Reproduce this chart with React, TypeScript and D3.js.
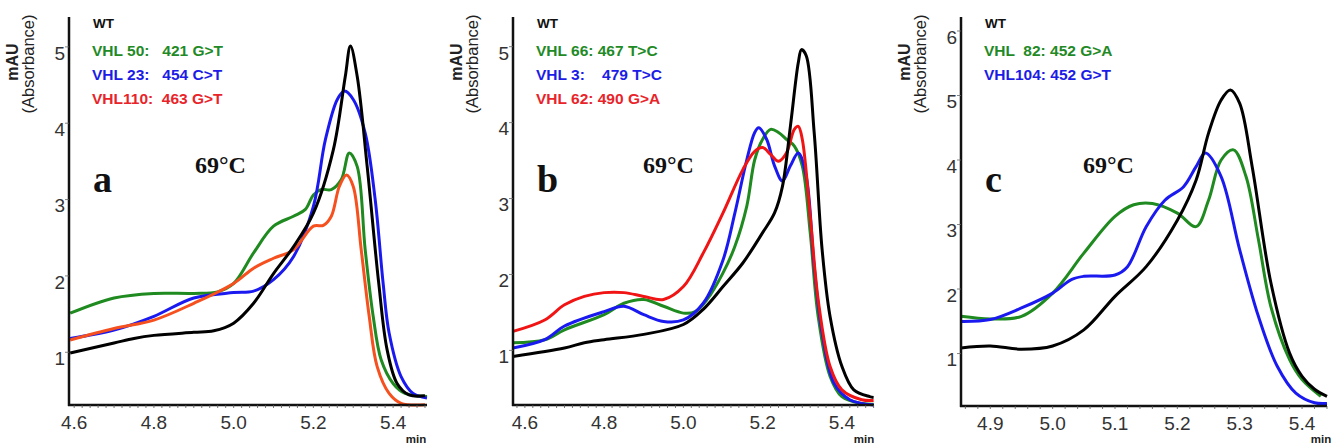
import React from "react";
import * as d3 from "d3";

// ---- data: [minutes, mAU] ----
const aWT = [[4.59,1.07],[4.70,1.20],[4.75,1.26],[4.80,1.30],[4.90,1.34],[4.95,1.36],[5.00,1.46],[5.05,1.72],[5.10,2.11],[5.15,2.46],[5.20,2.90],[5.25,3.73],[5.28,4.69],[5.293,5.09],[5.31,4.69],[5.335,3.51],[5.364,1.98],[5.385,1.11],[5.41,0.67],[5.44,0.52],[5.48,0.51]];
const aVHL50 = [[4.59,1.59],[4.70,1.79],[4.80,1.85],[4.90,1.85],[4.96,1.87],[5.00,1.98],[5.05,2.38],[5.10,2.73],[5.15,2.86],[5.18,2.95],[5.20,3.14],[5.22,3.21],[5.245,3.21],[5.27,3.34],[5.29,3.69],[5.31,3.51],[5.33,2.42],[5.35,1.55],[5.37,0.98],[5.40,0.67],[5.43,0.54],[5.485,0.50]];
const aVHL23 = [[4.59,1.26],[4.70,1.37],[4.80,1.55],[4.90,1.79],[5.00,1.86],[5.05,1.88],[5.10,2.03],[5.15,2.33],[5.20,2.99],[5.23,3.86],[5.26,4.39],[5.278,4.50],[5.30,4.39],[5.33,3.95],[5.355,3.08],[5.375,1.98],[5.39,1.33],[5.42,0.76],[5.45,0.54],[5.485,0.48]];
const aVHL110 = [[4.59,1.24],[4.70,1.39],[4.80,1.50],[4.90,1.72],[5.00,1.98],[5.05,2.18],[5.10,2.31],[5.15,2.42],[5.20,2.73],[5.225,2.74],[5.245,2.86],[5.265,3.25],[5.283,3.40],[5.30,3.25],[5.32,2.42],[5.34,1.55],[5.36,0.89],[5.39,0.54],[5.42,0.41],[5.48,0.39]];

const bWT = [[4.57,1.0],[4.70,1.11],[4.75,1.18],[4.80,1.22],[4.90,1.29],[5.00,1.42],[5.05,1.62],[5.10,1.92],[5.15,2.23],[5.20,2.63],[5.23,2.89],[5.25,3.24],[5.27,4.03],[5.29,4.87],[5.298,5.04],[5.31,4.96],[5.33,3.95],[5.35,2.41],[5.37,1.53],[5.40,0.87],[5.43,0.56],[5.47,0.47],[5.48,0.46]];
const bVHL66 = [[4.57,1.18],[4.65,1.22],[4.70,1.35],[4.80,1.55],[4.85,1.70],[4.90,1.75],[4.95,1.66],[5.00,1.57],[5.03,1.59],[5.06,1.75],[5.10,2.10],[5.13,2.45],[5.16,2.98],[5.18,3.59],[5.20,3.86],[5.22,3.99],[5.24,3.95],[5.26,3.86],[5.28,3.77],[5.30,3.51],[5.32,2.63],[5.34,1.53],[5.37,0.74],[5.40,0.47],[5.45,0.38],[5.48,0.37]];
const bVHL3 = [[4.57,1.11],[4.65,1.22],[4.70,1.40],[4.80,1.59],[4.85,1.66],[4.90,1.55],[4.95,1.46],[5.00,1.48],[5.05,1.70],[5.10,2.27],[5.13,2.89],[5.16,3.59],[5.18,3.95],[5.19,4.01],[5.21,3.86],[5.23,3.51],[5.25,3.31],[5.27,3.51],[5.29,3.68],[5.31,3.37],[5.33,2.19],[5.35,1.31],[5.38,0.65],[5.42,0.43],[5.48,0.36]];
const bVHL62 = [[4.57,1.33],[4.65,1.48],[4.70,1.68],[4.75,1.79],[4.80,1.84],[4.85,1.84],[4.90,1.79],[4.95,1.75],[5.00,1.92],[5.05,2.36],[5.10,2.89],[5.15,3.46],[5.18,3.70],[5.20,3.75],[5.22,3.66],[5.24,3.57],[5.26,3.68],[5.28,3.99],[5.29,4.03],[5.30,3.86],[5.32,2.85],[5.34,1.75],[5.37,0.87],[5.40,0.56],[5.45,0.43],[5.48,0.42]];

const cWT = [[4.853,1.18],[4.90,1.21],[4.95,1.16],[5.00,1.21],[5.05,1.46],[5.10,1.98],[5.15,2.44],[5.20,3.16],[5.23,3.78],[5.25,4.51],[5.27,5.02],[5.285,5.18],[5.30,4.97],[5.32,3.99],[5.35,2.19],[5.38,1.10],[5.40,0.74],[5.42,0.54],[5.44,0.43]];
const cVHL82 = [[4.853,1.67],[4.90,1.63],[4.95,1.67],[5.00,2.03],[5.05,2.65],[5.10,3.22],[5.13,3.40],[5.16,3.42],[5.20,3.27],[5.23,3.06],[5.25,3.47],[5.27,4.09],[5.29,4.25],[5.31,3.84],[5.33,2.86],[5.35,1.82],[5.38,1.0],[5.40,0.69],[5.43,0.43]];
const cVHL104 = [[4.853,1.59],[4.90,1.62],[4.95,1.80],[5.00,2.03],[5.03,2.24],[5.05,2.29],[5.10,2.31],[5.12,2.44],[5.15,3.06],[5.18,3.47],[5.21,3.68],[5.23,3.99],[5.245,4.20],[5.27,3.84],[5.30,2.70],[5.33,1.67],[5.36,0.90],[5.39,0.48],[5.42,0.33],[5.44,0.32]];

const abXTicks = [4.6, 4.8, 5.0, 5.2, 5.4];
const cXTicks = [4.9, 5.0, 5.1, 5.2, 5.3, 5.4];
const abYTicks = [1, 2, 3, 4, 5];
const cYTicks = [1, 2, 3, 4, 5, 6];

const aLegend = ["VHL 50:   421 G>T", "VHL 23:   454 C>T", "VHL110:  463 G>T"];
const bLegend = ["VHL 66: 467 T>C", "VHL 3:    479 T>C", "VHL 62: 490 G>A"];
const cLegend = ["VHL  82: 452 G>A", "VHL104: 452 G>T"];

const GREEN = "#1f8a26";
const BLUE = "#1c1ce6";
const RED = "#e8242a";
const SANS = "'Liberation Sans', Arial, sans-serif";
const SERIF = "'Liberation Serif', 'Times New Roman', serif";

function Panel(props) {
  const { x0, x1, xd, yBottom, yd, xTicks, yTicks, series, legend, letter, titleX, minX } = props;
  const x = d3.scaleLinear().domain(xd).range([x0, x1]);
  const y = d3.scaleLinear().domain(yd).range([yBottom, 17]);
  const line = d3
    .line()
    .x((d) => x(d[0]))
    .y((d) => y(d[1]))
    .curve(d3.curveCatmullRom.alpha(0.5));
  const minor = d3.range(Math.ceil(xd[0] * 50), Math.floor(xd[1] * 50) + 1).map((i) => i / 50);
  const lx = x0 + 24;

  return (
    <g>
      {/* y axis label */}
      <text transform={`translate(${x0 - 51},62) rotate(-90)`} textAnchor="middle" fontFamily={SANS} fontSize={16} fontWeight="bold" fill="#222">mAU</text>
      <text transform={`translate(${x0 - 35},64) rotate(-90)`} textAnchor="middle" fontFamily={SANS} fontSize={16.5} fill="#222">(Absorbance)</text>

      {/* curves: coloured first, WT on top */}
      {series.map((s, i) => (
        <path key={i} d={line(s.data)} fill="none" stroke={s.color} strokeWidth={3} strokeLinejoin="round" />
      ))}

      {/* axes */}
      <line x1={x0} x2={x0} y1={17} y2={yBottom + 1} stroke="#111" strokeWidth={2.5} />
      <line x1={x0 - 1} x2={x1} y1={yBottom} y2={yBottom} stroke="#111" strokeWidth={2.5} />
      {minor.map((t) => (
        <line key={t} x1={x(t)} x2={x(t)} y1={yBottom} y2={yBottom + 3} stroke="#555" strokeWidth={0.8} />
      ))}
      {yTicks.map((v) => (
        <g key={v}>
          <line x1={x0 - 4} x2={x0} y1={y(v) - 6} y2={y(v) - 6} stroke="#666" strokeWidth={0.8} />
          <text x={x0 - 4} y={y(v)} dy="0.36em" textAnchor="end" fontFamily={SANS} fontSize={19} fill="#333">{v}</text>
        </g>
      ))}
      {xTicks.map((t) => (
        <text key={t} x={x(t)} y={yBottom + 24} textAnchor="middle" fontFamily={SANS} fontSize={19} fill="#333">{d3.format(".1f")(t)}</text>
      ))}
      <text x={minX} y={443} textAnchor="middle" fontFamily={SANS} fontSize={11.5} fontWeight="bold" fill="#222">min</text>

      {/* legend */}
      <text x={lx} y={28} fontFamily={SANS} fontSize={13.5} fontWeight="bold" fill="#111">WT</text>
      {legend.map((l, i) => (
        <text key={i} x={lx - 1} y={56 + i * 24} fontFamily={SANS} fontSize={15.5} fontWeight="bold" fill={l.color} style={{ whiteSpace: "pre" }}>{l.text}</text>
      ))}

      <text x={titleX} y={173} fontFamily={SERIF} fontSize={24} fontWeight="bold" fill="#111">69°C</text>
      <text x={lx} y={192} fontFamily={SERIF} fontSize={38} fontWeight="bold" fill="#111">{letter}</text>
    </g>
  );
}

export default function App() {
  return (
    <svg width={1334} height={445} style={{ position: "absolute", left: 0, top: 0, background: "#fff" }}>
      <Panel
        x0={69} x1={427} xd={[4.587, 5.485]} yBottom={405} yd={[0.388, 5.47]}
        xTicks={abXTicks} yTicks={abYTicks} letter="a" titleX={195} minX={416}
        series={[
          { data: aVHL50, color: "#1f8a1f" },
          { data: aVHL23, color: "#1a1af0" },
          { data: aVHL110, color: "#f5501e" },
          { data: aWT, color: "#000" },
        ]}
        legend={aLegend.map((text, i) => ({ text, color: [GREEN, BLUE, RED][i] }))}
      />
      <Panel
        x0={513} x1={874} xd={[4.57, 5.481]} yBottom={405} yd={[0.36, 5.47]}
        xTicks={abXTicks} yTicks={abYTicks} letter="b" titleX={643} minX={864}
        series={[
          { data: bVHL66, color: "#1f8a1f" },
          { data: bVHL3, color: "#1a1af0" },
          { data: bVHL62, color: "#f01414" },
          { data: bWT, color: "#000" },
        ]}
        legend={bLegend.map((text, i) => ({ text, color: [GREEN, BLUE, RED][i] }))}
      />
      <Panel
        x0={961} x1={1327} xd={[4.853, 5.44]} yBottom={406} yd={[0.28, 6.31]}
        xTicks={cXTicks} yTicks={cYTicks} letter="c" titleX={1083} minX={1321}
        series={[
          { data: cVHL82, color: "#1f8a1f" },
          { data: cVHL104, color: "#1a1af0" },
          { data: cWT, color: "#000" },
        ]}
        legend={cLegend.map((text, i) => ({ text, color: [GREEN, BLUE][i] }))}
      />
    </svg>
  );
}
